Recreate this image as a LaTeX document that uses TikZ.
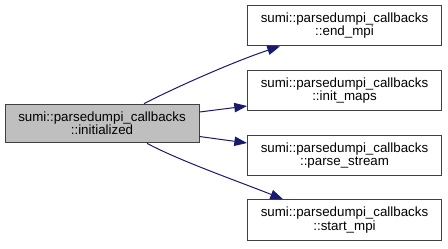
\documentclass[tikz,border=0pt]{standalone}
\usepackage{fontspec}
\setmainfont{Liberation Sans}
\usetikzlibrary{arrows.meta,calc}
\definecolor{edgeblue}{HTML}{191970}
\definecolor{boxline}{HTML}{404040}
\definecolor{boxfocus}{HTML}{BFBFBF}
\begin{document}
\begin{tikzpicture}[x=0.75pt,y=-0.75pt,
  fn/.style={draw=boxline,line width=0.75pt,fill=white,rectangle,inner sep=0pt,
    align=center,font=\fontsize{10}{10}\selectfont,
    minimum width=145.5pt,minimum height=30.5pt},
  focus/.style={fn,fill=boxfocus,minimum height=29pt},
  call/.style={draw=edgeblue,line width=0.75pt,
    -{Triangle[length=9.5pt,width=7pt]}}]
  \useasboundingbox (0,0) rectangle (448,248);

  % caller
  \node[focus] (init) at (102,123.5) {sumi::parsedumpi\_callbacks\\::initialized};

  % callees
  \node[fn] (endmpi) at (344.5,25.5) {sumi::parsedumpi\_callbacks\\::end\_mpi};
  \node[fn] (maps)   at (344.5,90.5) {sumi::parsedumpi\_callbacks\\::init\_maps};
  \node[fn] (parse)  at (344.5,155.5) {sumi::parsedumpi\_callbacks\\::parse\_stream};
  \node[fn] (start)  at (344.5,220) {sumi::parsedumpi\_callbacks\\::start\_mpi};

  % call edges
  \draw[call] ($(init.north)+(42,0)$) .. controls (178,86) and (238,60) .. ($(endmpi.south west)+(33,0)$);
  \draw[call] ($(init.east)+(0,-11.5)$) -- ($(maps.west)+(0,15.5)$);
  \draw[call] ($(init.east)+(0,13)$) -- ($(parse.west)+(0,-12.5)$);
  \draw[call] ($(init.south)+(45,0)$) .. controls (180,161) and (240,182) .. ($(start.north west)+(36,0)$);
\end{tikzpicture}
\end{document}
